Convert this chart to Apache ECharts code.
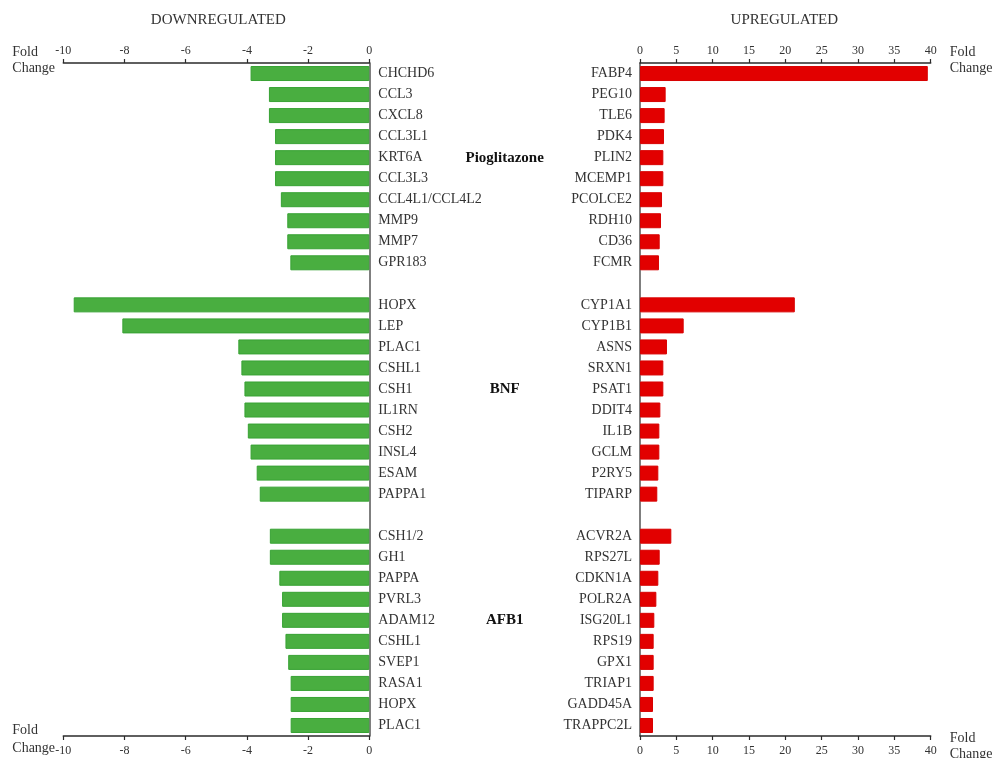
<!DOCTYPE html>
<html>
<head>
<meta charset="utf-8">
<script src="https://cdn.jsdelivr.net/npm/echarts@6/dist/echarts.min.js"></script>
<style>
  html, body { margin: 0; padding: 0; background: #ffffff; }
  #chart { width: 992px; height: 758px; }
</style>
</head>
<body>
<div id="chart"></div>
<script>
const FONT = '"Liberation Serif", "Times New Roman", serif';

// Treatment groups, top to bottom
const groupNames = ['Pioglitazone', 'BNF', 'AFB1'];

// Downregulated genes (fold change)
const downGenesPioglitazone = ['CHCHD6', 'CCL3', 'CXCL8', 'CCL3L1', 'KRT6A', 'CCL3L3', 'CCL4L1/CCL4L2', 'MMP9', 'MMP7', 'GPR183'];
const downFoldPioglitazone  = [-3.88, -3.28, -3.28, -3.08, -3.08, -3.08, -2.89, -2.68, -2.68, -2.58];
const downGenesBNF = ['HOPX', 'LEP', 'PLAC1', 'CSHL1', 'CSH1', 'IL1RN', 'CSH2', 'INSL4', 'ESAM', 'PAPPA1'];
const downFoldBNF  = [-9.66, -8.07, -4.28, -4.18, -4.08, -4.08, -3.97, -3.88, -3.68, -3.58];
const downGenesAFB1 = ['CSH1/2', 'GH1', 'PAPPA', 'PVRL3', 'ADAM12', 'CSHL1', 'SVEP1', 'RASA1', 'HOPX', 'PLAC1'];
const downFoldAFB1  = [-3.25, -3.25, -2.94, -2.85, -2.85, -2.74, -2.65, -2.57, -2.57, -2.57];

// Upregulated genes (fold change)
const upGenesPioglitazone = ['FABP4', 'PEG10', 'TLE6', 'PDK4', 'PLIN2', 'MCEMP1', 'PCOLCE2', 'RDH10', 'CD36', 'FCMR'];
const upFoldPioglitazone  = [39.6, 3.53, 3.39, 3.30, 3.21, 3.21, 3.03, 2.89, 2.71, 2.61];
const upGenesBNF = ['CYP1A1', 'CYP1B1', 'ASNS', 'SRXN1', 'PSAT1', 'DDIT4', 'IL1B', 'GCLM', 'P2RY5', 'TIPARP'];
const upFoldBNF  = [21.3, 6.01, 3.71, 3.21, 3.21, 2.80, 2.66, 2.66, 2.52, 2.38];
const upGenesAFB1 = ['ACVR2A', 'RPS27L', 'CDKN1A', 'POLR2A', 'ISG20L1', 'RPS19', 'GPX1', 'TRIAP1', 'GADD45A', 'TRAPPC2L'];
const upFoldAFB1  = [4.31, 2.71, 2.52, 2.25, 1.97, 1.88, 1.88, 1.88, 1.79, 1.79];

// Axis ticks
const downTicks = [-10, -8, -6, -4, -2, 0];
const upTicks = [0, 5, 10, 15, 20, 25, 30, 35, 40];

const panelTitles = ['DOWNREGULATED', 'UPREGULATED'];
const axisName = 'Fold\nChange';

// Stack the groups into one category list, with an empty row between groups
function joinGroups(geneLists, foldLists) {
  const cats = [], vals = [], labelRows = [];
  geneLists.forEach((genes, g) => {
    if (g > 0) { cats.push(''); vals.push(null); }
    labelRows.push(cats.length + Math.floor((genes.length - 1) / 2));
    genes.forEach((name, i) => { cats.push(name); vals.push(foldLists[g][i]); });
  });
  return { cats, vals, labelRows };
}

const down = joinGroups(
  [downGenesPioglitazone, downGenesBNF, downGenesAFB1],
  [downFoldPioglitazone, downFoldBNF, downFoldAFB1]
);
const up = joinGroups(
  [upGenesPioglitazone, upGenesBNF, upGenesAFB1],
  [upFoldPioglitazone, upFoldBNF, upFoldAFB1]
);

const TEXT = '#333333';
const GRID_TOP = 63, GRID_H = 673;

function valueAxis(grid, ticks, pos) {
  return {
    type: 'value',
    gridIndex: grid,
    position: pos,
    min: ticks[0],
    max: ticks[ticks.length - 1],
    interval: ticks[1] - ticks[0],
    splitLine: { show: false },
    axisLine: { show: true, onZero: false, lineStyle: { color: '#2b2b2b', width: 1.5 } },
    axisTick: { show: true, length: 4, lineStyle: { color: '#2b2b2b', width: 1.2 } },
    axisLabel: { fontFamily: FONT, fontSize: 12, color: TEXT, margin: pos === 'top' ? 6 : 9 }
  };
}

const chart = echarts.init(document.getElementById('chart'), null, { renderer: 'canvas' });

chart.setOption({
  animation: false,
  backgroundColor: '#ffffff',
  grid: [
    { left: 63.3, top: GRID_TOP, width: 306, height: GRID_H },
    { left: 640, top: GRID_TOP, width: 290.7, height: GRID_H }
  ],
  xAxis: [
    valueAxis(0, downTicks, 'top'),
    valueAxis(0, downTicks, 'bottom'),
    valueAxis(1, upTicks, 'top'),
    valueAxis(1, upTicks, 'bottom')
  ],
  yAxis: [
    {
      type: 'category', gridIndex: 0, data: down.cats, inverse: true, position: 'right',
      axisLine: { show: true, onZero: false, lineStyle: { color: '#555555', width: 1.5 } },
      axisTick: { show: false },
      axisLabel: { fontFamily: FONT, fontSize: 14, color: TEXT, margin: 9, interval: 0 }
    },
    {
      type: 'category', gridIndex: 1, data: up.cats, inverse: true, position: 'left',
      axisLine: { show: true, onZero: false, lineStyle: { color: '#555555', width: 1.5 } },
      axisTick: { show: false },
      axisLabel: { fontFamily: FONT, fontSize: 14, color: TEXT, margin: 8, interval: 0 }
    }
  ],
  series: [
    {
      type: 'bar', xAxisIndex: 0, yAxisIndex: 0, data: down.vals, barWidth: 15,
      itemStyle: { color: '#49ae40', borderColor: '#37a233', borderWidth: 1 }
    },
    {
      type: 'bar', xAxisIndex: 2, yAxisIndex: 1, data: up.vals, barWidth: 15,
      itemStyle: { color: '#e20000', borderColor: '#d80000', borderWidth: 1 }
    }
  ]
});

// Panel titles, axis names and group labels, placed from the axes' pixel extents
const leftZero = chart.convertToPixel({ xAxisIndex: 0 }, 0);
const leftMin = chart.convertToPixel({ xAxisIndex: 0 }, downTicks[0]);
const rightZero = chart.convertToPixel({ xAxisIndex: 2 }, 0);
const rightMax = chart.convertToPixel({ xAxisIndex: 2 }, upTicks[upTicks.length - 1]);
const gridBottom = GRID_TOP + GRID_H;
const midX = (leftZero + rightZero) / 2;

function text(str, x, y, extra) {
  return {
    type: 'text', x: x, y: y,
    style: Object.assign({ text: str, fontFamily: FONT, fontSize: 14, fill: TEXT, align: 'left', verticalAlign: 'middle', lineHeight: 16 }, extra)
  };
}

const graphics = [
  text(panelTitles[0], (leftMin + leftZero) / 2 + 2, 20, { fontSize: 15, align: 'center' }),
  text(panelTitles[1], (rightZero + rightMax) / 2 - 1, 20, { fontSize: 15, align: 'center' }),
  text(axisName, leftMin - 51, GRID_TOP - 3),
  text(axisName, leftMin - 51, gridBottom + 3, { lineHeight: 18 }),
  text(axisName, rightMax + 19, GRID_TOP - 3),
  text(axisName, rightMax + 19, gridBottom + 10)
];
groupNames.forEach((name, g) => {
  graphics.push(text(name, midX, chart.convertToPixel({ yAxisIndex: 0 }, down.labelRows[g]),
    { fontSize: 15, fontWeight: 'bold', fill: '#111111', align: 'center' }));
});
chart.setOption({ graphic: graphics });
</script>
</body>
</html>
